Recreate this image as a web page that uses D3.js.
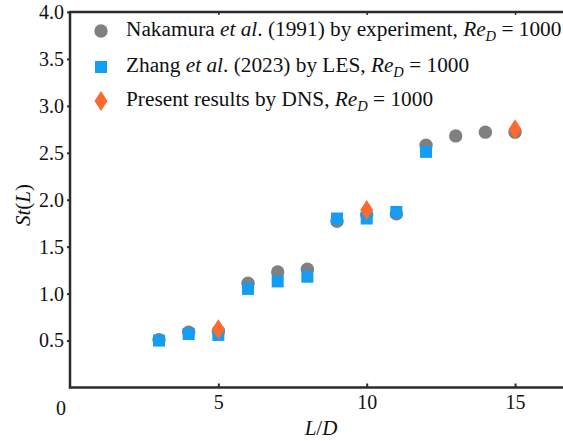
<!DOCTYPE html>
<html><head><meta charset="utf-8">
<script src="https://cdn.jsdelivr.net/npm/d3@7"></script>
<style>body{margin:0;background:#fff}svg{display:block}svg text{font-family:"Liberation Serif","Times New Roman",serif}</style>
</head><body>
<svg id="c" width="563" height="441"></svg>
<script>
const nakX = [3,4,5,6,7,8,9,10,11,12,13,14,15];
const nakY = [0.51,0.59,0.60,1.11,1.23,1.26,1.77,1.84,1.85,2.58,2.68,2.72,2.72];
const zhX = [3,4,5,6,7,8,9,10,11,12];
const zhY = [0.50,0.57,0.56,1.05,1.13,1.18,1.80,1.80,1.87,2.51];
const dnsX = [5,10,15];
const dnsY = [0.62,1.89,2.75];
const yTicks = [0.5,1.0,1.5,2.0,2.5,3.0,3.5,4.0];
const xTicks = [5,10,15];

const svg = d3.select("#c");
const x = d3.scaleLinear().domain([0,17]).range([70, 70+29.67*17]);
const y = d3.scaleLinear().domain([0,4]).range([387.5,12]);
const ink = "#2b2b2b";
const fs = 20;
const lfs = 21.3;

// markers
const g = svg.append("g");
g.selectAll("circle.nak").data(nakX.map((v,i)=>[v,nakY[i]])).join("circle")
  .attr("cx",d=>x(d[0])).attr("cy",d=>y(d[1])).attr("r",6.7).attr("fill","#808080");
g.selectAll("rect.zh").data(zhX.map((v,i)=>[v,zhY[i]])).join("rect")
  .attr("x",d=>x(d[0])-6).attr("y",d=>y(d[1])-6).attr("width",12).attr("height",12).attr("fill","#149df5");
const diamond = "M0,-10L6.5,0L0,10L-6.5,0Z";
g.selectAll("path.dns").data(dnsX.map((v,i)=>[v,dnsY[i]])).join("path")
  .attr("transform",d=>`translate(${x(d[0])},${y(d[1])})`).attr("d",diamond).attr("fill","#fe6a2e");

// axes
const yAxis = svg.append("g").attr("transform","translate(70,0)")
  .call(d3.axisLeft(y).tickValues(yTicks).tickSize(3).tickFormat(d3.format(".1f")));
yAxis.attr("font-family",null);
yAxis.select(".domain").remove();
yAxis.selectAll("line").attr("stroke",ink).attr("stroke-width",2);
yAxis.selectAll("text").attr("font-size",fs).attr("fill","#111").attr("x",-6);

const xAxis = svg.append("g").attr("transform","translate(0,387.5)")
  .call(d3.axisBottom(x).tickValues(xTicks).tickSize(-4).tickFormat(d3.format("d")));
xAxis.attr("font-family",null);
xAxis.select(".domain").remove();
xAxis.selectAll("line").attr("stroke",ink).attr("stroke-width",2);
xAxis.selectAll("text").attr("font-size",fs).attr("fill","#111").attr("y",7).attr("dy","0.71em");

const xTop = svg.append("g").attr("transform","translate(0,12)")
  .call(d3.axisTop(x).tickValues(xTicks).tickSize(-3).tickFormat(""));
xTop.select(".domain").remove();
xTop.selectAll("line").attr("stroke",ink).attr("stroke-width",1.5);

// frame lines
svg.append("path").attr("d",`M563,12H70V387.5H563`).attr("fill","none").attr("stroke",ink).attr("stroke-width",2.5);

// origin label
svg.append("text").attr("x",61).attr("y",415).attr("text-anchor","middle")
  .attr("font-size",fs).attr("fill","#111").text("0");

// axis titles
const xl = svg.append("text").attr("x",321).attr("y",435).attr("text-anchor","middle")
  .attr("font-size",21).attr("fill","#111");
xl.append("tspan").attr("font-style","italic").text("L");
xl.append("tspan").text("/");
xl.append("tspan").attr("font-style","italic").text("D");

const yl = svg.append("text").attr("transform","translate(30,205) rotate(-90)").attr("text-anchor","middle")
  .attr("font-size",21).attr("fill","#111");
yl.append("tspan").attr("font-style","italic").text("St");
yl.append("tspan").text("(");
yl.append("tspan").attr("font-style","italic").text("L");
yl.append("tspan").text(")");

// legend
const legY = [31,67,101];
const leg = svg.append("g");
leg.append("circle").attr("cx",101).attr("cy",legY[0]).attr("r",6.7).attr("fill","#808080");
leg.append("rect").attr("x",95).attr("y",legY[1]-6).attr("width",12).attr("height",12).attr("fill","#149df5");
leg.append("path").attr("transform",`translate(101,${legY[2]})`).attr("d",diamond).attr("fill","#fe6a2e");

const legendItems = [
  [["Nakamura ",""],["et al",'i'],[". (1991) by experiment, ",""]],
  [["Zhang ",""],["et al",'i'],[". (2023) by LES, ",""]],
  [["Present results by DNS, ",""]]
];
legendItems.forEach((parts,i)=>{
  const t = leg.append("text").attr("x",126).attr("y",legY[i]+5)
    .attr("font-size",lfs).attr("fill","#111");
  parts.forEach(p=>{
    const s = t.append("tspan").text(p[0]);
    if(p[1]==='i') s.attr("font-style","italic");
  });
  t.append("tspan").attr("font-style","italic").text("Re");
  t.append("tspan").attr("font-style","italic").attr("font-size",14.5).attr("dy",5).text("D");
  t.append("tspan").attr("dy",-5).text(" = 1000");
});
</script>
</body></html>
